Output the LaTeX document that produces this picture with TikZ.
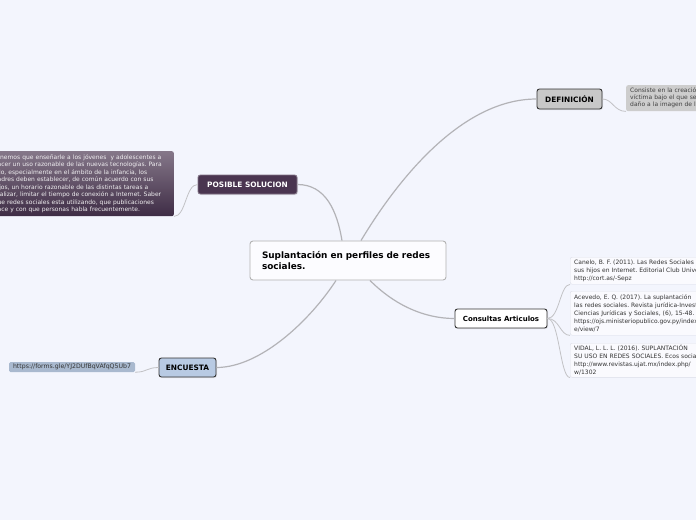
\documentclass[tikz,border=0pt]{standalone}
\usepackage{fontspec}
\setmainfont{DejaVu Sans}
\usetikzlibrary{shadows}

\definecolor{mapbg}{HTML}{F3F5FD}
\definecolor{linkgray}{HTML}{B3B3B7}
\definecolor{defgray}{HTML}{C8C8C8}
\definecolor{notegray}{HTML}{CDCDCD}
\definecolor{solpurple}{HTML}{4A3550}
\definecolor{soltop}{HTML}{857789}
\definecolor{solbot}{HTML}{3E2C45}
\definecolor{encblue}{HTML}{B8CAE3}
\definecolor{urlblue}{HTML}{A9B9CF}
\definecolor{refline}{HTML}{DCDEE8}

\begin{document}
\frenchspacing
\begin{tikzpicture}[x=1pt,y=-1pt,
  link/.style={draw=linkgray,line width=1.2pt},
  sublink/.style={draw=linkgray!80,line width=0.8pt},
  topic/.style={draw=black!80,rounded corners=2.5pt,line width=0.9pt,inner sep=0pt,font=\fontsize{7.4}{9}\selectfont\bfseries,drop shadow={opacity=0.18,shadow xshift=1pt,shadow yshift=-1pt}},
  note/.style={rounded corners=2pt,align=left,inner xsep=4pt,inner ysep=2pt,font=\fontsize{6}{7}\selectfont},
  refnote/.style={note,draw=refline,fill=white!55!mapbg,text=black!80,text width=200pt,anchor=north west,font=\fontsize{6}{8}\selectfont}]
\useasboundingbox (0,0) rectangle (696,520);
\clip (0,0) rectangle (696,520);
\fill[mapbg] (0,0) rectangle (696,520);

% central topic
\node[draw=black!30,fill=white!75!mapbg,rounded corners=3pt,line width=0.9pt,minimum width=196pt,minimum height=39pt,text width=172pt,inner xsep=12pt,align=left,font=\fontsize{8.9}{11}\selectfont\bfseries] (suplan) at (348,260.5) {Suplantación en perfiles de redes\\sociales.};

% main topics
\node[topic,fill=defgray,minimum width=65pt,minimum height=20pt] (defin) at (569.5,99) {DEFINICIÓN};
\node[topic,fill=solpurple,draw=solpurple!70!white,text=white,minimum width=99pt,minimum height=19pt] (posible) at (247.5,184.5) {POSIBLE SOLUCION};
\node[topic,fill=encblue,minimum width=57pt,minimum height=19pt] (encuesta) at (187.5,367.5) {ENCUESTA};
\node[topic,fill=white,minimum width=92pt,minimum height=19pt,font=\fontsize{7}{9}\selectfont\bfseries] (consult) at (501,318.5) {Consultas Articulos};

% notes
\node[note,fill=notegray,text=black!75,anchor=north west,text width=160pt,minimum height=26pt] (defnote) at (626,85) {Consiste en la creación\\víctima bajo el que se\\daño a la imagen de la};
\node[note,top color=soltop,bottom color=solbot,text=white!92!solpurple,anchor=north east,text width=176pt,minimum height=65pt,font=\fontsize{6}{7.55}\selectfont] (soltxt) at (174,151) {Tenemos que enseñarle a los jóvenes \ y adolescentes a\\hacer un uso razonable de las nuevas tecnologías. Para\\ello, especialmente en el ámbito de la infancia, los\\padres deben establecer, de común acuerdo con sus\\hijos, un horario razonable de las distintas tareas a\\realizar, limitar el tiempo de conexión a Internet. Saber\\que redes sociales esta utilizando, que publicaciones\\hace y con que personas habla frecuentemente.};
\node[note,fill=urlblue,text=black!80,rounded corners=1.5pt,minimum width=126pt,minimum height=10pt,inner ysep=0pt,align=center,font=\fontsize{6.2}{7}\selectfont] (url) at (72,367) {https://forms.gle/YJ2DUfBqVAfqQ5Ub7};
\node[refnote,minimum height=27pt] (refa) at (570,257) {Canelo, B. F. (2011). Las Redes Sociales\\sus hijos en Internet. Editorial Club Universitaria\\http://cort.as/-Sepz};
\node[refnote,minimum height=44pt] (refb) at (570,291) {Acevedo, E. Q. (2017). La suplantación\\las redes sociales. Revista jurídica-Investigación\\Ciencias Jurídicas y Sociales, (6), 15-48.\\https://ojs.ministeriopublico.gov.py/index.php/\\e/view/7};
\node[refnote,minimum height=34pt] (refc) at (570,343) {VIDAL, L. L. L. (2016). SUPLANTACIÓN\\SU USO EN REDES SOCIALES. Ecos sociales\\http://www.revistas.ujat.mx/index.php/\\w/1302};

% connectors
\draw[link] ([xshift=-6pt]suplan.north) .. controls +(-5,-30) and +(28,0) .. (posible.east);
\draw[link] ([xshift=13pt]suplan.north) .. controls +(30,-50) and +(-80,0) .. (defin.west);
\draw[link] ([xshift=-12pt]suplan.south) .. controls +(-26,40) and +(44,0) .. (encuesta.east);
\draw[link] ([xshift=22pt]suplan.south) .. controls +(25,25) and +(-30,0) .. (consult.west);
\draw[sublink] (defin.east) .. controls +(10,0) and +(-12,0) .. (defnote.south west);
\draw[sublink] (posible.west) .. controls +(-12,0) and +(12,0) .. (soltxt.south east);
\draw[sublink] (encuesta.west) .. controls +(-12,0) and +(12,0) .. (url.south east);
\foreach \r in {refa,refb,refc}
  \draw[sublink] (consult.east) .. controls +(12,0) and +(-10,0) .. (\r.south west);
\end{tikzpicture}
\end{document}
